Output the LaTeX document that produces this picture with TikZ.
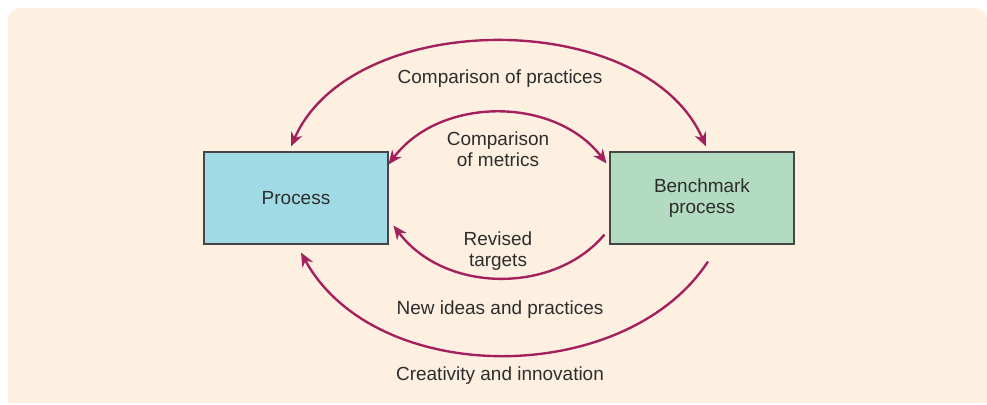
\documentclass[tikz,border=0pt]{standalone}
\usepackage{fontspec}
\setmainfont{Liberation Sans}
\usepackage{xcolor}
\usepackage{tikz}
\usetikzlibrary{arrows.meta, positioning}
\definecolor{mybg}{RGB}{253,240,225}
\definecolor{myplum}{RGB}{163,32,92}
\definecolor{mydark}{RGB}{45,45,45}
\definecolor{myedge}{RGB}{70,70,70}
\definecolor{hdrblue}{RGB}{160,218,228}
\definecolor{hdrgreen}{RGB}{178,219,193}
\newcommand{\labfont}{\fontsize{10.8pt}{12pt}\selectfont}
\tikzset{
  block/.style={rectangle, draw=myedge, fill=hdrblue, minimum width=3.68cm, minimum height=1.84cm, align=center, font=\labfont, text=mydark, line width=0.6pt},
  greenblock/.style={block, fill=hdrgreen},
  lab/.style={align=center, font=\labfont, text=mydark},
  twoway/.style={{Stealth[length=0.28cm,width=0.24cm]}-{Stealth[length=0.28cm,width=0.24cm]}, line width=1.35pt, draw=myplum},
  oneway/.style={-{Stealth[length=0.28cm,width=0.24cm]}, line width=1.35pt, draw=myplum}
}
\begin{document}
\begin{tikzpicture}[x=0.02cm, y=-0.02cm]
  % Panel
  \clip (0,0) rectangle (987,405);
  \fill[white] (0,0) rectangle (987,405);
  \fill[mybg, rounded corners=0.24cm] (8,8) rectangle (987,403);
  \fill[mybg] (8,100) rectangle (987,403);

  % Boxes
  \node[block] (proc) at (296,198) {\raisebox{-0.05cm}{Process}};
  \node[greenblock] (bench) at (702,198) {Benchmark\\process};

  % Upper arcs
  \draw[twoway] ([xshift=-0.1cm,yshift=0.1cm]proc.north) .. controls (352,7) and (645,7) .. ([xshift=0.08cm,yshift=0.1cm]bench.north);
  \draw[twoway] ([yshift=-0.26cm]proc.north east) .. controls (440,96) and (555,96) .. ([xshift=-0.06cm,yshift=-0.24cm]bench.north west);
  \node[lab] (practices) at (500,79) {Comparison of practices};
  \node[lab] (metrics) at (498,149) {Comparison\\of metrics};

  % Lower arcs
  \draw[oneway] ([xshift=-0.1cm,yshift=0.2cm]bench.south west) .. controls (555,294) and (445,294) .. ([xshift=0.1cm,yshift=0.38cm]proc.south east);
  \draw[oneway] ([xshift=0.12cm,yshift=-0.34cm]bench.south) .. controls (625,388) and (375,388) .. ([xshift=0.1cm,yshift=-0.16cm]proc.south);
  \node[lab] (targets) at (498,251) {Revised\\targets};
  \node[lab] (ideas) at (500,310) {New ideas and practices};
  \node[lab] (creativity) at (500,376) {Creativity and innovation};
\end{tikzpicture}
\end{document}
